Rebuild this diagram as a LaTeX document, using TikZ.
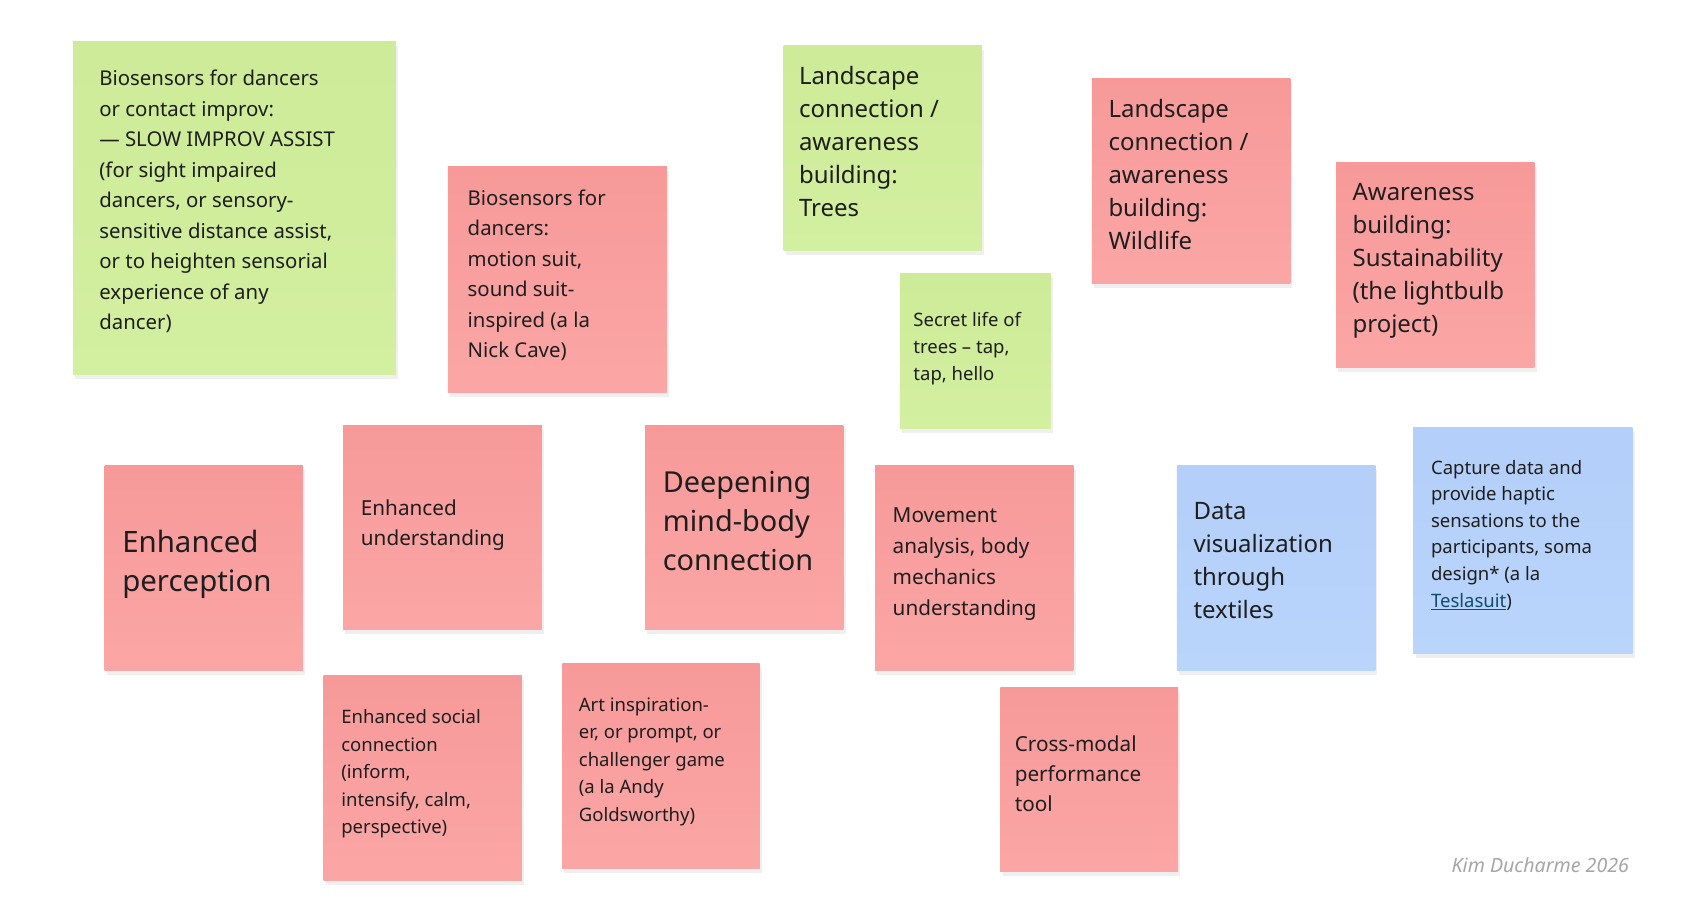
\documentclass[tikz,border=0pt]{standalone}
\usepackage{fontspec}
\setmainfont{Noto Sans}
\usetikzlibrary{shadows}
\definecolor{gn}{HTML}{D3EFA0}\definecolor{gnt}{HTML}{CDEB98}
\definecolor{rd}{HTML}{FBA6A6}\definecolor{rdt}{HTML}{F79999}
\definecolor{bl}{HTML}{B9D5FB}\definecolor{blt}{HTML}{B3CFFA}
\definecolor{ink}{HTML}{1E1E1E}
\tikzset{
 sticky/.style={draw=none, fill=#1, drop shadow={shadow xshift=2pt,shadow yshift=-4pt,opacity=0.12}},
 txt/.style={anchor=north west, inner sep=0pt, align=left, text=ink, font=\bfseries\fontsize{#1}{#1*1.5}\selectfont},
}
\newcommand{\stk}[6]{\path[sticky=#6] (#2,-#3) rectangle (#4,-#5);
 \shade[top color=#6t,bottom color=#6] (#2,-#3) rectangle (#4,-#5);}
\begin{document}
\begin{tikzpicture}[x=1pt,y=1pt]
\useasboundingbox[fill=white] (0,0) rectangle (1560,-833);
\stk{n1}{67}{38}{363}{344}{gn}
\stk{n2}{411}{153}{612}{360}{rd}
\stk{n3}{719}{42}{901}{230}{gn}
\stk{n4}{1002}{72}{1184}{260}{rd}
\stk{n5}{1226}{149}{1408}{337}{rd}
\stk{n6}{826}{251}{964}{393}{gn}
\stk{n7}{96}{427}{278}{615}{rd}
\stk{n8}{315}{390}{497}{578}{rd}
\stk{n9}{592}{390}{774}{578}{rd}
\stk{n10}{803}{427}{985}{615}{rd}
\stk{n11}{1080}{427}{1262}{615}{bl}
\stk{n12}{1297}{392}{1498}{600}{bl}
\stk{n13}{297}{620}{479}{808}{rd}
\stk{n14}{516}{609}{697}{797}{rd}
\stk{n15}{918}{631}{1081}{800}{rd}
\node[txt=18.7,font=\bfseries\fontsize{18.7}{28}\selectfont] (t1) at (91,-64) {Biosensors for dancers\\or contact improv:\\— SLOW IMPROV ASSIST\\(for sight impaired\\dancers, or sensory-\\sensitive distance assist,\\or to heighten sensorial\\experience of any\\dancer)};
\node[txt=18.7,font=\bfseries\fontsize{18.7}{28}\selectfont] (t2) at (429,-174) {Biosensors for\\dancers:\\motion suit,\\sound suit-\\inspired (a la\\Nick Cave)};
\node[txt=22,font=\bfseries\fontsize{22}{30.2}\selectfont] (t3) at (733,-61) {Landscape\\connection /\\awareness\\building:\\Trees};
\node[txt=22,font=\bfseries\fontsize{22}{30.2}\selectfont] (t4) at (1017,-91) {Landscape\\connection /\\awareness\\building:\\Wildlife};
\node[txt=22,font=\bfseries\fontsize{22}{30.2}\selectfont] (t5) at (1241,-168) {Awareness\\building:\\Sustainability\\(the lightbulb\\project)};
\node[txt=17,font=\bfseries\fontsize{17}{25}\selectfont] (t6) at (838,-286) {Secret life of\\trees -- tap,\\tap, hello};
\node[txt=27,font=\bfseries\fontsize{27}{36.5}\selectfont] (t7) at (112,-486) {Enhanced\\perception};
\node[txt=19,font=\bfseries\fontsize{19}{28}\selectfont] (t8) at (331,-458) {Enhanced\\understanding};
\node[txt=27,font=\bfseries\fontsize{26.5}{36}\selectfont] (t9) at (608,-432) {Deepening\\mind-body\\connection};
\node[txt=19,font=\bfseries\fontsize{19}{28.3}\selectfont] (t10) at (819,-466) {Movement\\analysis, body\\mechanics\\understanding};
\node[txt=22,font=\bfseries\fontsize{22}{30.3}\selectfont] (t11) at (1095,-461) {Data\\visualization\\through\\textiles};
\node[txt=17,font=\bfseries\fontsize{17}{24.4}\selectfont] (t12) at (1313,-422) {Capture data and\\provide haptic\\sensations to the\\participants, soma\\design* (a la\\{\color[HTML]{0F4C6E}\underline{Teslasuit}})};
\node[txt=17,font=\bfseries\fontsize{17}{25.2}\selectfont] (t13) at (313,-651) {Enhanced social\\connection\\(inform,\\intensify, calm,\\perspective)};
\node[txt=17,font=\bfseries\fontsize{17}{25.2}\selectfont] (t14) at (531,-640) {Art inspiration-\\er, or prompt, or\\challenger game\\(a la Andy\\Goldsworthy)};
\node[txt=19,font=\bfseries\fontsize{19}{27.5}\selectfont] (t15) at (931,-675) {Cross-modal\\performance\\tool};
\node[anchor=east, inner sep=0pt, text=gray!70, font=\itshape\fontsize{18}{20}\selectfont] (sig) at (1495,-794) {Kim Ducharme 2026};
\end{tikzpicture}
\end{document}
